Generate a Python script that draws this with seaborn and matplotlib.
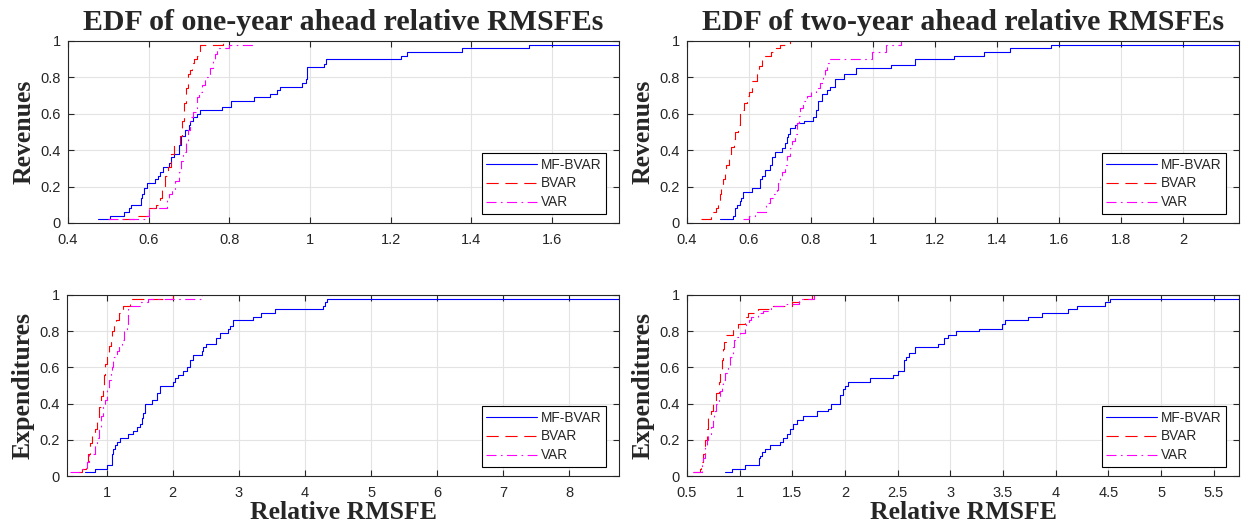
import matplotlib
matplotlib.use("Agg")
import matplotlib.pyplot as plt
import seaborn as sns
import pandas as pd

# ---------------- data (EDF breakpoints) ----------------
series_names = ["MF-BVAR", "BVAR", "VAR"]

# Revenues, one-year ahead
rev1_mf_x = [0.474, 0.504, 0.538, 0.552, 0.556, 0.581, 0.584, 0.588, 0.596, 0.616, 0.622, 0.629, 0.635, 0.651,
             0.656, 0.663, 0.676, 0.679, 0.689, 0.699, 0.703, 0.711, 0.719, 0.728, 0.782, 0.804, 0.862, 0.902,
             0.917, 0.925, 0.979, 0.989, 0.993, 1.034, 1.040, 1.226, 1.240, 1.376, 1.544, 1.766]
rev1_mf_y = [0.02, 0.04, 0.06, 0.08, 0.10, 0.14, 0.16, 0.19, 0.22, 0.24, 0.26, 0.28, 0.31, 0.33,
             0.36, 0.38, 0.43, 0.48, 0.51, 0.54, 0.56, 0.58, 0.60, 0.62, 0.64, 0.67, 0.69, 0.71,
             0.73, 0.75, 0.77, 0.79, 0.855, 0.875, 0.90, 0.92, 0.94, 0.96, 0.98, 1.0]
rev1_bvar_x = [0.535, 0.567, 0.600, 0.619, 0.627, 0.632, 0.640, 0.649, 0.655, 0.663, 0.678, 0.683, 0.688, 0.693,
               0.697, 0.703, 0.708, 0.713, 0.720, 0.728, 0.785]
rev1_bvar_y = [0.02, 0.04, 0.08, 0.10, 0.14, 0.18, 0.26, 0.31, 0.38, 0.43, 0.48, 0.56, 0.66, 0.74,
               0.82, 0.84, 0.88, 0.90, 0.92, 0.98, 1.0]
rev1_var_x = [0.499, 0.590, 0.600, 0.645, 0.650, 0.657, 0.666, 0.675, 0.681, 0.686, 0.692, 0.698, 0.703, 0.709,
              0.719, 0.726, 0.733, 0.740, 0.752, 0.760, 0.765, 0.769, 0.800, 0.856]
rev1_var_y = [0.02, 0.04, 0.08, 0.14, 0.16, 0.18, 0.23, 0.28, 0.34, 0.39, 0.45, 0.51, 0.58, 0.61,
              0.69, 0.72, 0.76, 0.80, 0.85, 0.89, 0.93, 0.96, 0.98, 1.0]

# Revenues, two-year ahead
rev2_mf_x = [0.505, 0.548, 0.555, 0.562, 0.570, 0.575, 0.580, 0.608, 0.635, 0.643, 0.650, 0.667, 0.675, 0.683,
             0.705, 0.716, 0.721, 0.726, 0.732, 0.748, 0.754, 0.777, 0.807, 0.815, 0.823, 0.834, 0.850, 0.860,
             0.877, 0.907, 0.946, 1.059, 1.136, 1.260, 1.359, 1.441, 1.574, 2.180]
rev2_mf_y = [0.02, 0.04, 0.08, 0.10, 0.12, 0.14, 0.17, 0.19, 0.24, 0.26, 0.29, 0.32, 0.36, 0.39,
             0.41, 0.44, 0.47, 0.49, 0.52, 0.54, 0.55, 0.56, 0.58, 0.62, 0.67, 0.71, 0.73, 0.75,
             0.79, 0.82, 0.85, 0.87, 0.90, 0.92, 0.94, 0.96, 0.98, 1.0]
rev2_bvar_x = [0.445, 0.478, 0.485, 0.492, 0.500, 0.505, 0.510, 0.516, 0.522, 0.527, 0.535, 0.543, 0.550, 0.556,
               0.564, 0.570, 0.578, 0.585, 0.592, 0.600, 0.610, 0.625, 0.632, 0.643, 0.672, 0.686, 0.700, 0.732]
rev2_bvar_y = [0.02, 0.04, 0.06, 0.08, 0.12, 0.16, 0.20, 0.24, 0.28, 0.32, 0.38, 0.42, 0.46, 0.50,
               0.54, 0.60, 0.62, 0.66, 0.70, 0.72, 0.78, 0.82, 0.86, 0.92, 0.94, 0.96, 0.98, 1.0]
rev2_var_x = [0.580, 0.600, 0.618, 0.656, 0.667, 0.678, 0.689, 0.694, 0.700, 0.705, 0.715, 0.721, 0.732, 0.740,
              0.748, 0.754, 0.760, 0.764, 0.775, 0.786, 0.800, 0.817, 0.828, 0.839, 0.845, 0.850, 0.858, 0.995,
              1.043, 1.091]
rev2_var_y = [0.02, 0.04, 0.06, 0.11, 0.14, 0.16, 0.18, 0.22, 0.26, 0.28, 0.32, 0.37, 0.41, 0.45,
              0.49, 0.55, 0.59, 0.63, 0.67, 0.70, 0.72, 0.74, 0.77, 0.80, 0.84, 0.88, 0.90, 0.94,
              0.98, 1.0]

# Expenditures, one-year ahead
exp1_mf_x = [0.67, 0.82, 1.00, 1.08, 1.10, 1.13, 1.15, 1.20, 1.33, 1.40, 1.46, 1.50, 1.53, 1.55, 1.58, 1.68,
             1.76, 1.81, 2.00, 2.03, 2.08, 2.16, 2.21, 2.26, 2.31, 2.44, 2.46, 2.51, 2.65, 2.71, 2.84, 2.87,
             2.91, 3.21, 3.34, 3.55, 4.28, 4.30, 4.33, 8.75]
exp1_mf_y = [0.02, 0.04, 0.06, 0.12, 0.15, 0.17, 0.19, 0.21, 0.23, 0.25, 0.27, 0.29, 0.32, 0.35, 0.40, 0.42,
             0.46, 0.50, 0.52, 0.54, 0.56, 0.58, 0.60, 0.64, 0.67, 0.69, 0.71, 0.73, 0.76, 0.79, 0.81, 0.83,
             0.86, 0.88, 0.90, 0.92, 0.94, 0.96, 0.98, 1.0]
exp1_bvar_x = [0.57, 0.62, 0.68, 0.72, 0.75, 0.78, 0.82, 0.85, 0.88, 0.91, 0.94, 0.96, 0.98, 1.00, 1.03, 1.06,
               1.08, 1.11, 1.14, 1.18, 1.21, 1.24, 1.36, 2.00]
exp1_bvar_y = [0.02, 0.04, 0.08, 0.12, 0.18, 0.22, 0.26, 0.32, 0.38, 0.44, 0.50, 0.56, 0.62, 0.66, 0.72, 0.76,
               0.80, 0.84, 0.86, 0.90, 0.92, 0.94, 0.98, 1.0]
exp1_var_x = [0.45, 0.62, 0.70, 0.73, 0.83, 0.86, 0.88, 0.92, 0.95, 0.98, 1.00, 1.03, 1.06, 1.08, 1.10, 1.16,
              1.18, 1.23, 1.26, 1.31, 1.33, 1.36, 1.50, 1.62, 2.44]
exp1_var_y = [0.02, 0.04, 0.08, 0.12, 0.18, 0.21, 0.27, 0.33, 0.38, 0.42, 0.48, 0.53, 0.57, 0.60, 0.66, 0.69,
              0.72, 0.75, 0.80, 0.82, 0.92, 0.94, 0.96, 0.98, 1.0]

# Expenditures, two-year ahead
exp2_mf_x = [0.865, 0.93, 1.05, 1.18, 1.195, 1.21, 1.24, 1.29, 1.38, 1.415, 1.45, 1.48, 1.51, 1.54, 1.60, 1.73,
             1.84, 1.87, 1.95, 1.98, 2.00, 2.03, 2.24, 2.46, 2.50, 2.56, 2.58, 2.61, 2.66, 2.88, 2.94, 2.98,
             3.05, 3.27, 3.49, 3.52, 3.74, 3.87, 4.12, 4.20, 4.47, 4.52, 5.74]
exp2_mf_y = [0.02, 0.04, 0.06, 0.10, 0.11, 0.13, 0.15, 0.17, 0.19, 0.21, 0.23, 0.26, 0.29, 0.31, 0.33, 0.36,
             0.37, 0.40, 0.45, 0.48, 0.50, 0.52, 0.54, 0.56, 0.58, 0.64, 0.66, 0.68, 0.71, 0.73, 0.76, 0.78,
             0.80, 0.81, 0.84, 0.86, 0.88, 0.90, 0.92, 0.94, 0.96, 0.98, 1.0]
exp2_bvar_x = [0.56, 0.62, 0.63, 0.65, 0.67, 0.69, 0.70, 0.73, 0.75, 0.78, 0.80, 0.81, 0.83, 0.84, 0.85, 0.87,
               0.94, 0.98, 1.05, 1.08, 1.17, 1.30, 1.50, 1.57, 1.69]
exp2_bvar_y = [0.02, 0.04, 0.08, 0.12, 0.20, 0.26, 0.32, 0.36, 0.40, 0.46, 0.52, 0.58, 0.64, 0.70, 0.74, 0.78,
               0.82, 0.84, 0.88, 0.90, 0.92, 0.94, 0.96, 0.98, 1.0]
exp2_var_x = [0.56, 0.64, 0.65, 0.67, 0.69, 0.70, 0.73, 0.75, 0.76, 0.78, 0.80, 0.81, 0.83, 0.84, 0.86, 0.89,
              0.91, 0.94, 0.95, 0.97, 1.00, 1.05, 1.06, 1.09, 1.11, 1.17, 1.22, 1.27, 1.30, 1.44, 1.56, 1.71]
exp2_var_y = [0.02, 0.06, 0.10, 0.16, 0.20, 0.23, 0.27, 0.31, 0.36, 0.40, 0.44, 0.47, 0.51, 0.53, 0.57, 0.60,
              0.66, 0.71, 0.75, 0.77, 0.79, 0.82, 0.84, 0.86, 0.88, 0.90, 0.91, 0.92, 0.94, 0.95, 0.98, 1.0]

titles = ["EDF of one-year ahead relative RMSFEs", "EDF of two-year ahead relative RMSFEs"]
row_labels = ["Revenues", "Expenditures"]
x_label = "Relative RMSFE"
y_ticks = [0, 0.2, 0.4, 0.6, 0.8, 1]
x_ticks_rev1 = [0.4, 0.6, 0.8, 1.0, 1.2, 1.4, 1.6]
x_ticks_rev2 = [0.4, 0.6, 0.8, 1.0, 1.2, 1.4, 1.6, 1.8, 2.0]
x_ticks_exp1 = [1, 2, 3, 4, 5, 6, 7, 8]
x_ticks_exp2 = [0.5, 1, 1.5, 2, 2.5, 3, 3.5, 4, 4.5, 5, 5.5]

panels = [
    dict(series=[(rev1_mf_x, rev1_mf_y), (rev1_bvar_x, rev1_bvar_y), (rev1_var_x, rev1_var_y)],
         xlim=(0.4, 1.766), xticks=x_ticks_rev1, box=(68, 41, 619, 223), title=titles[0], ylabel=row_labels[0], xlabel=None),
    dict(series=[(rev2_mf_x, rev2_mf_y), (rev2_bvar_x, rev2_bvar_y), (rev2_var_x, rev2_var_y)],
         xlim=(0.4, 2.18), xticks=x_ticks_rev2, box=(687, 41, 1239, 223), title=titles[1], ylabel=row_labels[0], xlabel=None),
    dict(series=[(exp1_mf_x, exp1_mf_y), (exp1_bvar_x, exp1_bvar_y), (exp1_var_x, exp1_var_y)],
         xlim=(0.4, 8.75), xticks=x_ticks_exp1, box=(67, 295, 619, 476), title=None, ylabel=row_labels[1], xlabel=x_label),
    dict(series=[(exp2_mf_x, exp2_mf_y), (exp2_bvar_x, exp2_bvar_y), (exp2_var_x, exp2_var_y)],
         xlim=(0.5, 5.74), xticks=x_ticks_exp2, box=(687, 295, 1239, 476), title=None, ylabel=row_labels[1], xlabel=x_label),
]

colors = ["#0000ff", "#ff0000", "#ff00ff"]
styles = ["-", (0, (11, 6)), (0, (9, 4, 1.5, 4))]

sns.set_theme(style="ticks")
plt.rcParams['font.family'] = ['Liberation Sans', 'DejaVu Sans']

W, H = 1253, 527
fig = plt.figure(figsize=(W / 100, H / 100), dpi=100)
dark = "#262626"
serif = ['Liberation Serif', 'DejaVu Serif']


def fmt(v):
    return "%g" % v


for p in panels:
    l, t, r, b = p["box"]
    axw, axh = r - l, b - t
    ax = fig.add_axes([l / W, 1 - b / H, axw / W, axh / H])
    handles = []
    for (xs, ys), name, c, ls in zip(p["series"], series_names, colors, styles):
        df = pd.DataFrame({"x": xs, "y": ys})
        sns.lineplot(data=df, x="x", y="y", ax=ax, estimator=None, sort=False,
                     drawstyle="steps-post", color=c, linewidth=0.8, legend=False)
        ln = ax.lines[-1]
        ln.set_linestyle(ls)
        handles.append(ln)
    ax.set_xlim(*p["xlim"])
    ax.set_ylim(0, 1)
    ax.set_xticks(p["xticks"])
    ax.set_xticklabels([fmt(v) for v in p["xticks"]])
    ax.set_yticks(y_ticks)
    ax.set_yticklabels([fmt(v) for v in y_ticks])
    ax.grid(True, color="#e3e3e3", linewidth=0.8)
    ax.set_axisbelow(True)
    ax.tick_params(direction="in", top=True, right=True, length=4, width=0.8,
                   colors=dark, labelsize=10.5)
    ax.tick_params(axis="x", pad=7)
    ax.tick_params(axis="y", pad=5)
    for s in ax.spines.values():
        s.set_color(dark)
        s.set_linewidth(0.8)
    if p["xlabel"]:
        ax.set_xlabel(p["xlabel"], fontsize=18.5, fontweight="bold", family=serif)
        ax.xaxis.set_label_coords(0.5, -(501 - b) / axh)
    else:
        ax.set_xlabel("")
    ax.set_ylabel(p["ylabel"], fontsize=18.5, fontweight="bold", family=serif, labelpad=4)
    if p["title"]:
        ax.set_title(p["title"], fontsize=21.5, fontweight="bold", family=serif, pad=8)
    leg = ax.legend(handles, series_names, loc="lower right",
                    bbox_to_anchor=(1 - 13 / axw, 9 / axh), borderaxespad=0,
                    fontsize=9.8, frameon=True, fancybox=False,
                    edgecolor="black", framealpha=1, handlelength=3.7, labelspacing=0.36,
                    borderpad=0.34, handletextpad=0.3)
    leg.get_frame().set_linewidth(0.8)

fig.savefig("out.png", dpi=100)
